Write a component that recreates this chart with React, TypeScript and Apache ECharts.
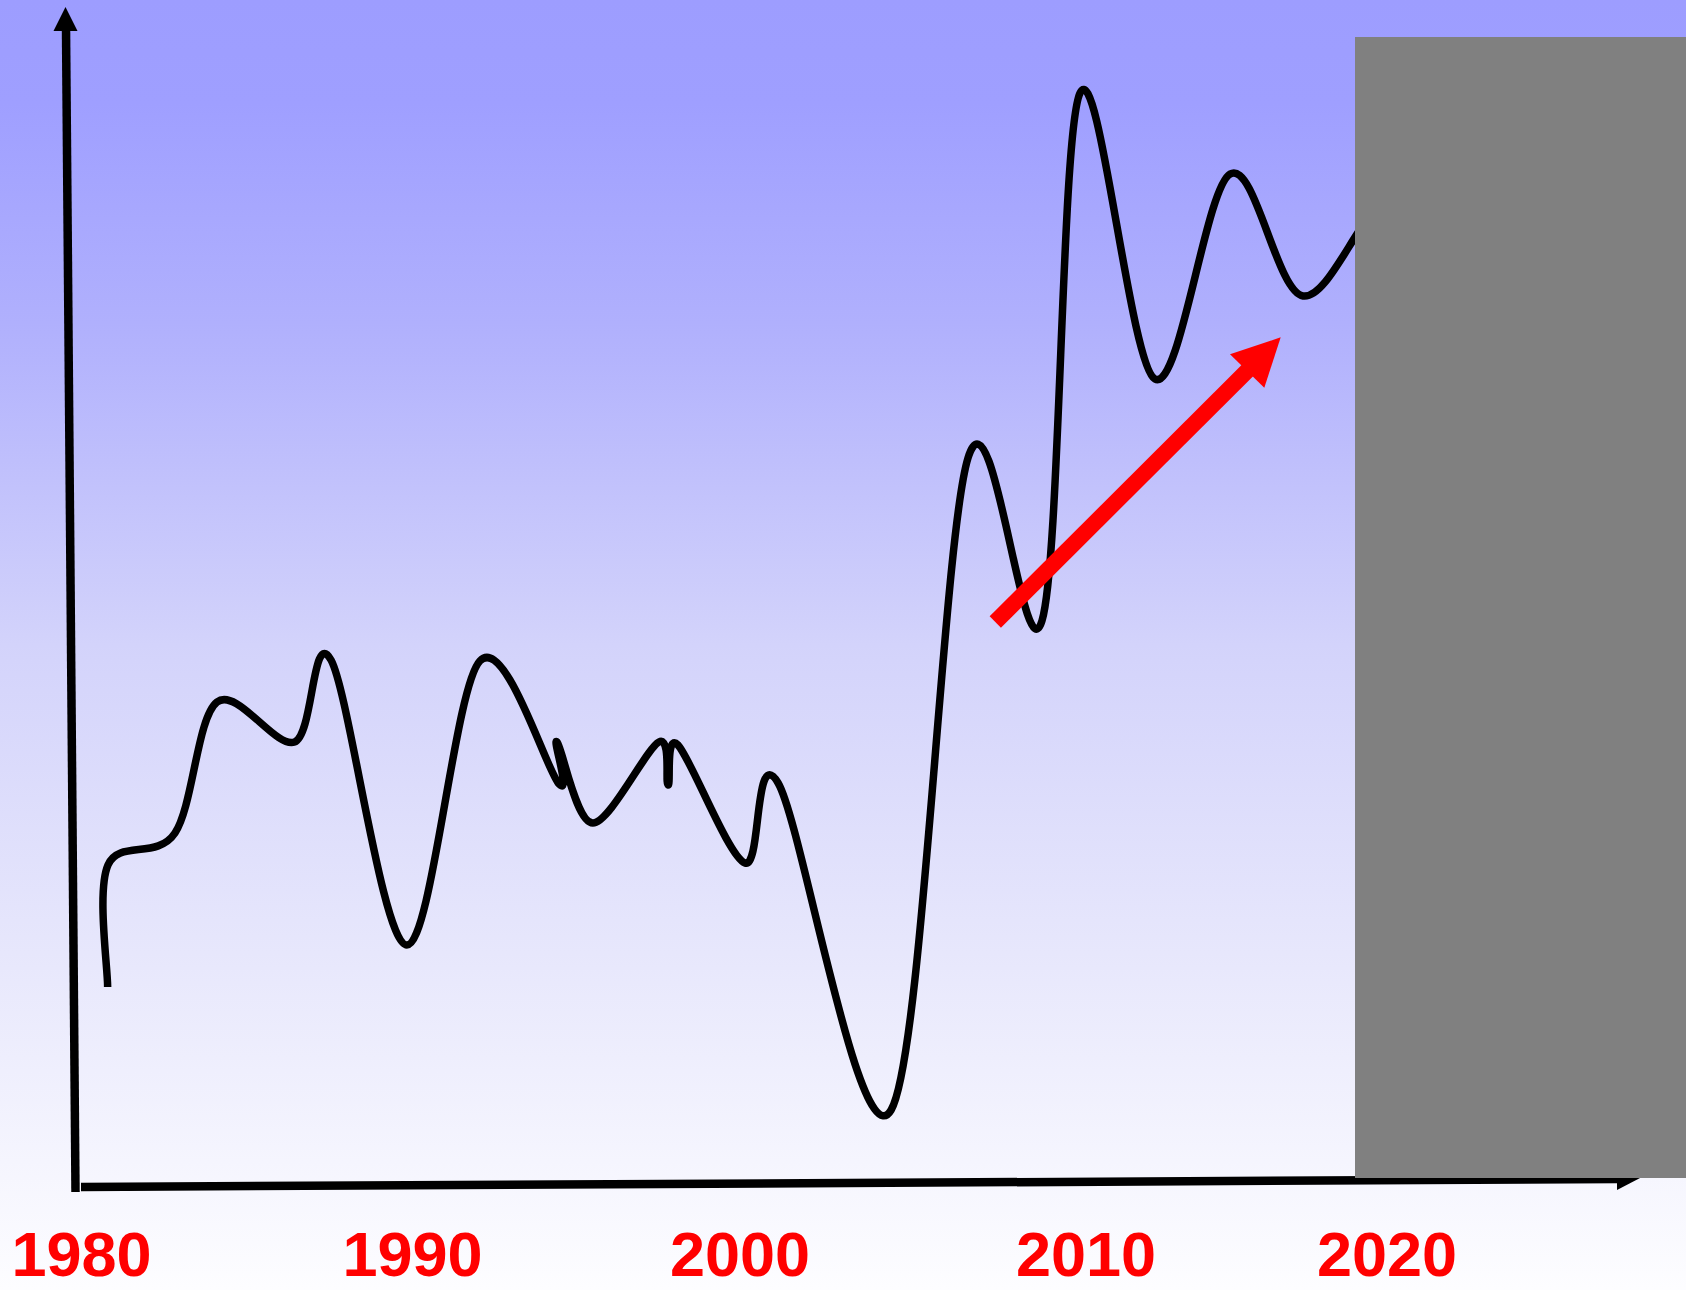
import React, { useEffect, useRef } from 'react';
import * as echarts from 'echarts';

// Data (years, arbitrary index value)
const YEARS = [
  1980.72, 1980.73, 1982.77, 1984.05, 1986.41, 1987.52, 1989.83, 1992.05,
  1994.46, 1994.40, 1995.49, 1997.50, 1997.78, 1998.08, 2000.12, 2001.13,
  2004.57, 2006.91, 2009.16, 2010.32, 2012.60, 2014.89, 2017.11, 2019.76,
  2022.19,
];
const VALUES = [
  19.6, 31.8, 35.0, 48.1, 44.1, 52.3, 23.8, 52.2,
  39.9, 44.1, 36.0, 44.1, 39.8, 43.8, 32.0, 40.0,
  7.3, 72.5, 56.2, 109.0, 80.4, 100.9, 88.7, 98.5,
  93.3,
];
const TICK_LABELS = ['1980', '1990', '2000', '2010', '2020'];

export default function App() {
  const ref = useRef<HTMLDivElement>(null);

  useEffect(() => {
    if (!ref.current) return;
    const chart = echarts.init(ref.current, null, { renderer: 'svg' });

    const labelShift: Record<string, number> = {
      '1980': -2.5, '1990': 0, '2000': -1, '2010': 16.5, '2020': -11,
    };
    const labelFont = {
      color: '#FF0000',
      fontSize: 63,
      fontWeight: 'bold' as const,
      fontFamily: '"Liberation Sans", Arial, sans-serif',
      lineHeight: 56,
    };
    const rich: Record<string, any> = {};
    TICK_LABELS.forEach((t) => {
      const s = labelShift[t] || 0;
      rich['l' + t] = {
        ...labelFont,
        padding: s >= 0 ? [0, 0, 0, 2 * s] : [0, -2 * s, 0, 0],
      };
    });

    const data = YEARS.map((y, i) => [y, VALUES[i]]);

    const option: any = {
      animation: false,
      backgroundColor: 'transparent',
      grid: { left: 84, right: 90.9, top: 83, bottom: 107, containLabel: false },
      xAxis: {
        type: 'value',
        min: 1980,
        max: 2026,
        interval: 10,
        axisLine: { show: false },
        axisTick: { show: false },
        splitLine: { show: false },
        axisLabel: {
          ...labelFont,
          margin: 71,
          verticalAlign: 'middle',
          formatter: (v: number) => {
            const t = String(Math.round(v));
            return TICK_LABELS.indexOf(t) >= 0 ? `{l${t}|${t}}` : '';
          },
          rich,
        },
      },
      yAxis: {
        type: 'value',
        min: 0,
        max: 110,
        show: false,
      },
      graphic: [
        {
          type: 'rect',
          z: -10,
          silent: true,
          shape: { x: 0, y: 0, width: 1686, height: 1290 },
          style: {
            fill: new echarts.graphic.LinearGradient(0, 0, 0, 1, [
              { offset: 0, color: '#9D9DFF' },
              { offset: 0.08, color: '#9F9FFF' },
              { offset: 0.25, color: '#B0B0FD' },
              { offset: 0.5, color: '#D3D3FB' },
              { offset: 0.75, color: '#E8E8FC' },
              { offset: 0.9, color: '#F5F5FE' },
              { offset: 1, color: '#FDFDFF' },
            ]),
          },
        },
        // y axis (hand drawn, slightly tilted)
        {
          type: 'line',
          z: 50,
          shape: { x1: 66, y1: 28, x2: 75.5, y2: 1192 },
          style: { stroke: '#000', lineWidth: 8.5 },
        },
        {
          type: 'polygon',
          z: 50,
          shape: { points: [[65.5, 7], [53.5, 31], [77.5, 31]] },
          style: { fill: '#000' },
        },
        // x axis
        {
          type: 'line',
          z: 50,
          shape: { x1: 81, y1: 1187, x2: 1618, y2: 1179 },
          style: { stroke: '#000', lineWidth: 8.5 },
        },
        {
          type: 'polygon',
          z: 50,
          shape: { points: [[1617, 1166], [1617, 1190], [1642, 1177]] },
          style: { fill: '#000' },
        },
        // red trend arrow
        {
          type: 'line',
          z: 60,
          shape: { x1: 995.3, y1: 622, x2: 1250, y2: 368 },
          style: { stroke: '#FF0000', lineWidth: 16 },
        },
        {
          type: 'polygon',
          z: 60,
          shape: { points: [[1280.7, 337.3], [1230, 354.3], [1264.3, 387.7]] },
          style: { fill: '#FF0000' },
        },
        // grey box
        {
          type: 'rect',
          z: 70,
          shape: { x: 1355, y: 37, width: 331, height: 1141 },
          style: { fill: '#808080' },
        },
      ],
      series: [
        {
          type: 'custom',
          clip: false,
          z: 10,
          encode: { x: 0, y: 1 },
          data,
          renderItem: (params: any, api: any) => {
            if (params.dataIndex !== 0) return null;
            const pts = YEARS.map((y, i) => api.coord([y, VALUES[i]]));
            const n = pts.length;
            let d = `M${pts[0][0]},${pts[0][1]}`;
            for (let i = 0; i < n - 1; i++) {
              const p0 = pts[Math.max(i - 1, 0)];
              const p1 = pts[i];
              const p2 = pts[i + 1];
              const p3 = pts[Math.min(i + 2, n - 1)];
              const c1x = p1[0] + (p2[0] - p0[0]) / 6;
              const c1y = p1[1] + (p2[1] - p0[1]) / 6;
              const c2x = p2[0] - (p3[0] - p1[0]) / 6;
              const c2y = p2[1] - (p3[1] - p1[1]) / 6;
              d += ` C${c1x},${c1y} ${c2x},${c2y} ${p2[0]},${p2[1]}`;
            }
            return {
              type: 'path',
              shape: { pathData: d },
              style: {
                fill: 'none',
                stroke: '#000',
                lineWidth: 7.5,
                lineJoin: 'round',
                lineCap: 'butt',
              },
            };
          },
        },
      ],
    };

    chart.setOption(option);
    return () => chart.dispose();
  }, []);

  return (
    <div
      ref={ref}
      style={{ position: 'fixed', left: 0, top: 0, width: 1686, height: 1290 }}
    />
  );
}
